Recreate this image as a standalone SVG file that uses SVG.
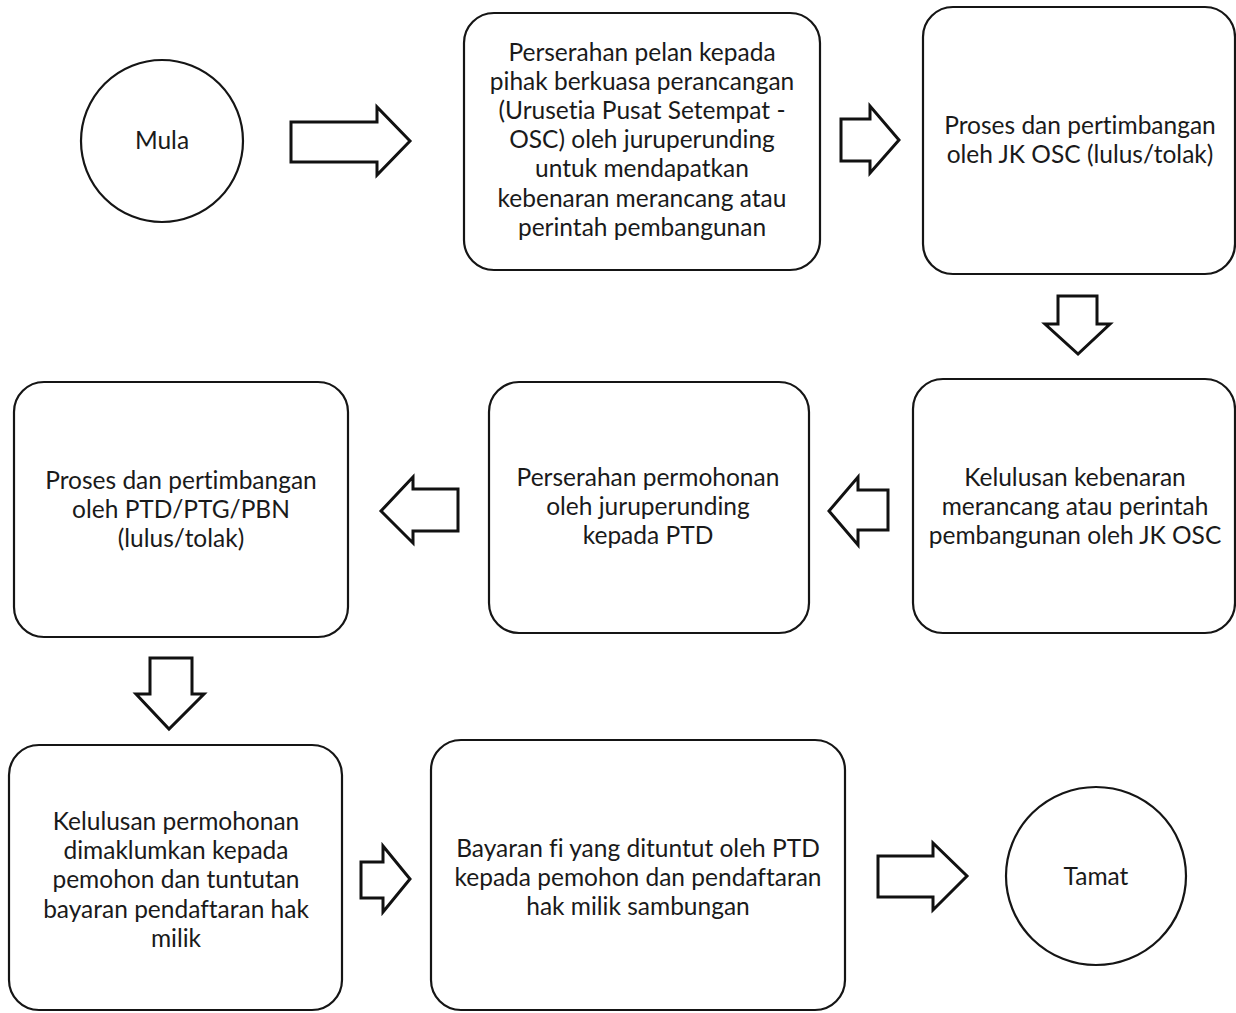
<svg xmlns="http://www.w3.org/2000/svg" width="1236" height="1013" viewBox="0 0 1236 1013">
<style>
.n{fill:#fff;stroke:#151515;stroke-width:2.2}
.a{fill:#fff;stroke:#111;stroke-width:3;stroke-linejoin:miter}
text{font-family:"Lato","Open Sans","Liberation Sans",sans-serif;font-size:24.5px;fill:#1a1a1a;text-anchor:middle;font-variant-ligatures:none}
</style>
<rect width="1236" height="1013" fill="#fff"/>
<g id="connectors">
<polygon class="a" points="291,122 377,122 377,107 410,141 377,175 377,162 291,162"/>
<polygon class="a" points="841,119 870,119 870,106 899,140 870,173 870,161 841,161"/>
<polygon class="a" points="1058,296 1097,296 1097,324 1110,324 1078,354 1045,324 1058,324"/>
<polygon class="a" points="458,489 413,489 413,477 381,511 413,543 413,531 458,531"/>
<polygon class="a" points="888,490 858,490 858,477 829,511 858,545 858,530 888,530"/>
<polygon class="a" points="150,658 192,658 192,694 204,694 169,729 136,694 150,694"/>
<polygon class="a" points="361,862 383,862 383,846 410,879 383,912 383,898 361,898"/>
<polygon class="a" points="878,856 933,856 933,843 967,876 933,910 933,897 878,897"/>
</g>
<g id="mula">
<ellipse class="n" cx="162" cy="141" rx="81" ry="81"/>
<text x="162" y="149">Mula</text>
</g>
<g id="perserahan-pelan">
<rect class="n" x="464" y="13" width="356" height="257" rx="30"/>
<text x="642" y="61">Perserahan pelan kepada</text>
<text x="642" y="90">pihak berkuasa perancangan</text>
<text x="642" y="119">(Urusetia Pusat Setempat -</text>
<text x="642" y="148">OSC) oleh juruperunding</text>
<text x="642" y="177">untuk mendapatkan</text>
<text x="642" y="207">kebenaran merancang atau</text>
<text x="642" y="236">perintah pembangunan</text>
</g>
<g id="proses-jk-osc">
<rect class="n" x="923" y="7" width="312" height="267" rx="30"/>
<text x="1080" y="134">Proses dan pertimbangan</text>
<text x="1080" y="163">oleh JK OSC (lulus/tolak)</text>
</g>
<g id="kelulusan-kebenaran">
<rect class="n" x="913" y="379" width="322" height="254" rx="30"/>
<text x="1075" y="486">Kelulusan kebenaran</text>
<text x="1075" y="515">merancang atau perintah</text>
<text x="1075" y="544">pembangunan oleh JK OSC</text>
</g>
<g id="perserahan-permohonan">
<rect class="n" x="489" y="382" width="320" height="251" rx="30"/>
<text x="648" y="486">Perserahan permohonan</text>
<text x="648" y="515">oleh juruperunding</text>
<text x="648" y="544">kepada PTD</text>
</g>
<g id="proses-ptd">
<rect class="n" x="14" y="382" width="334" height="255" rx="30"/>
<text x="181" y="489">Proses dan pertimbangan</text>
<text x="181" y="518">oleh PTD/PTG/PBN</text>
<text x="181" y="547">(lulus/tolak)</text>
</g>
<g id="kelulusan-permohonan">
<rect class="n" x="9" y="745" width="333" height="265" rx="30"/>
<text x="176" y="830">Kelulusan permohonan</text>
<text x="176" y="859">dimaklumkan kepada</text>
<text x="176" y="888">pemohon dan tuntutan</text>
<text x="176" y="918">bayaran pendaftaran hak</text>
<text x="176" y="947">milik</text>
</g>
<g id="bayaran-fi">
<rect class="n" x="431" y="740" width="414" height="270" rx="30"/>
<text x="638" y="857">Bayaran fi yang dituntut oleh PTD</text>
<text x="638" y="886">kepada pemohon dan pendaftaran</text>
<text x="638" y="915">hak milik sambungan</text>
</g>
<g id="tamat">
<ellipse class="n" cx="1096" cy="876" rx="90" ry="89"/>
<text x="1096" y="885">Tamat</text>
</g>
</svg>
